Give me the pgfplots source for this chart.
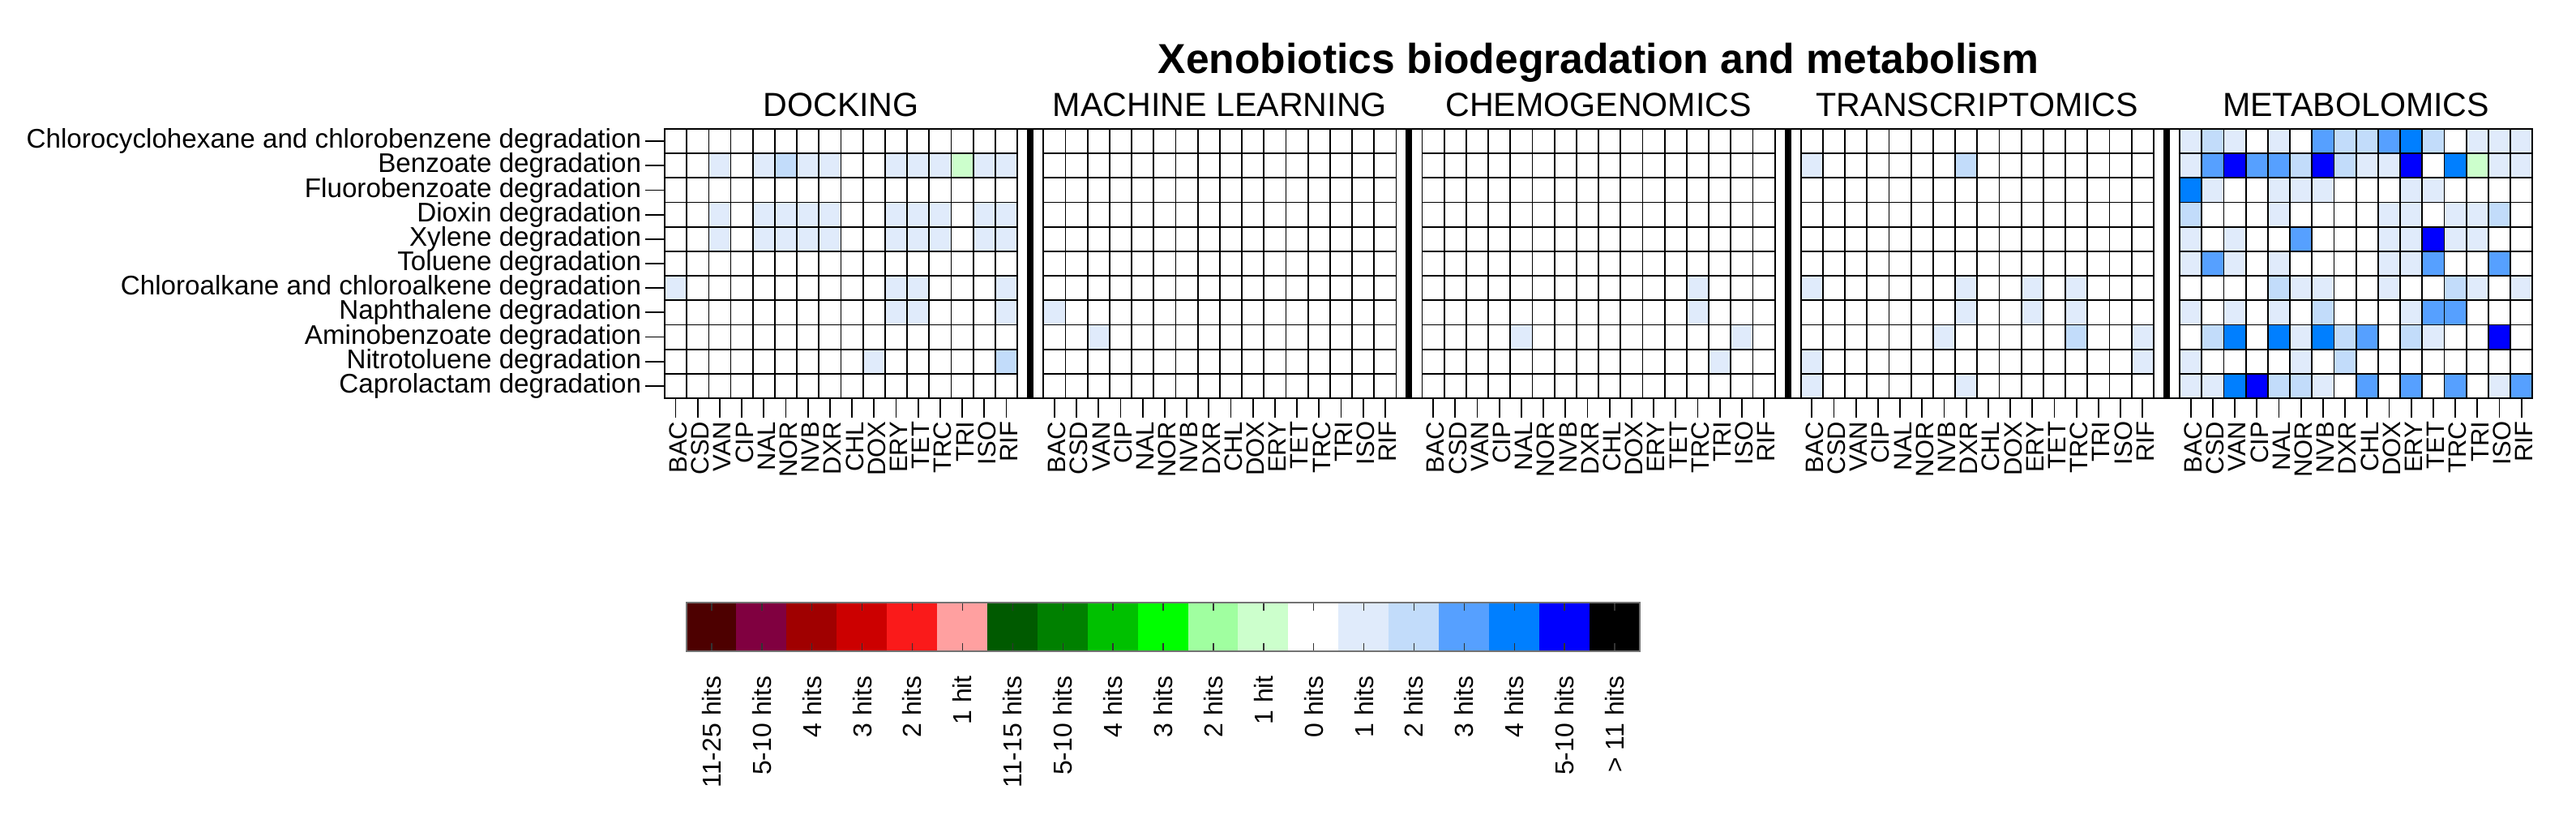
\documentclass[border=0pt]{standalone}
\usepackage{fontspec}
\setmainfont{Liberation Sans}
\usepackage{pgfplots}
\usepackage{pgfplotstable}
\pgfplotsset{compat=1.18}

% colour index: 0..5 red scale, 6..11 green scale, 12 = 0 hits, 13..18 blue scale
\pgfplotsset{
  colormap={hits}{
    rgb255(0cm)=(77,0,0) rgb255(1cm)=(128,0,64) rgb255(2cm)=(160,0,0) rgb255(3cm)=(204,0,0)
    rgb255(4cm)=(250,26,26) rgb255(5cm)=(255,160,160)
    rgb255(6cm)=(0,90,0) rgb255(7cm)=(0,128,0) rgb255(8cm)=(0,192,0) rgb255(9cm)=(0,255,0)
    rgb255(10cm)=(160,255,160) rgb255(11cm)=(204,255,204)
    rgb255(12cm)=(255,255,255) rgb255(13cm)=(224,235,251) rgb255(14cm)=(194,220,250)
    rgb255(15cm)=(86,160,255) rgb255(16cm)=(0,128,255) rgb255(17cm)=(0,0,255) rgb255(18cm)=(0,0,0)
  },
}

\pgfplotstableread[row sep=\\]{
c\\
12\\12\\12\\12\\12\\12\\12\\12\\12\\12\\12\\12\\12\\12\\12\\12\\
12\\12\\13\\12\\13\\14\\13\\13\\12\\12\\13\\13\\13\\11\\13\\13\\
12\\12\\12\\12\\12\\12\\12\\12\\12\\12\\12\\12\\12\\12\\12\\12\\
12\\12\\13\\12\\13\\13\\13\\13\\12\\12\\13\\13\\13\\12\\13\\13\\
12\\12\\13\\12\\13\\13\\13\\13\\12\\12\\13\\13\\13\\12\\13\\13\\
12\\12\\12\\12\\12\\12\\12\\12\\12\\12\\12\\12\\12\\12\\12\\12\\
13\\12\\12\\12\\12\\12\\12\\12\\12\\12\\13\\13\\12\\12\\12\\13\\
13\\12\\12\\12\\12\\12\\12\\12\\12\\12\\13\\13\\12\\12\\12\\13\\
12\\12\\12\\12\\12\\12\\12\\12\\12\\12\\12\\12\\12\\12\\12\\12\\
12\\12\\12\\12\\12\\12\\12\\12\\12\\13\\12\\12\\12\\12\\12\\14\\
12\\12\\12\\12\\12\\12\\12\\12\\12\\12\\12\\12\\12\\12\\12\\12\\
}\docking

\pgfplotstableread[row sep=\\]{
c\\
12\\12\\12\\12\\12\\12\\12\\12\\12\\12\\12\\12\\12\\12\\12\\12\\
12\\12\\12\\12\\12\\12\\12\\12\\12\\12\\12\\12\\12\\12\\12\\12\\
12\\12\\12\\12\\12\\12\\12\\12\\12\\12\\12\\12\\12\\12\\12\\12\\
12\\12\\12\\12\\12\\12\\12\\12\\12\\12\\12\\12\\12\\12\\12\\12\\
12\\12\\12\\12\\12\\12\\12\\12\\12\\12\\12\\12\\12\\12\\12\\12\\
12\\12\\12\\12\\12\\12\\12\\12\\12\\12\\12\\12\\12\\12\\12\\12\\
12\\12\\12\\12\\12\\12\\12\\12\\12\\12\\12\\12\\12\\12\\12\\12\\
12\\12\\12\\12\\12\\12\\12\\12\\12\\12\\12\\12\\12\\12\\12\\12\\
13\\12\\13\\12\\12\\12\\12\\12\\12\\12\\12\\12\\12\\12\\12\\12\\
12\\12\\12\\12\\12\\12\\12\\12\\12\\12\\12\\12\\12\\12\\12\\12\\
12\\12\\12\\12\\12\\12\\12\\12\\12\\12\\12\\12\\12\\12\\12\\12\\
}\mlearn

\pgfplotstableread[row sep=\\]{
c\\
12\\12\\12\\12\\12\\12\\12\\12\\12\\12\\12\\12\\12\\12\\12\\12\\
12\\12\\12\\12\\12\\12\\12\\12\\12\\12\\12\\12\\12\\12\\12\\12\\
12\\12\\12\\12\\12\\12\\12\\12\\12\\12\\12\\12\\12\\12\\12\\12\\
12\\12\\12\\12\\12\\12\\12\\12\\12\\12\\12\\12\\12\\12\\12\\12\\
12\\12\\12\\12\\12\\12\\12\\12\\12\\12\\12\\12\\12\\12\\12\\12\\
12\\12\\12\\12\\12\\12\\12\\12\\12\\12\\12\\12\\12\\12\\12\\12\\
12\\12\\12\\12\\12\\12\\12\\12\\12\\12\\12\\12\\13\\12\\12\\12\\
12\\12\\12\\12\\12\\12\\12\\12\\12\\12\\12\\12\\13\\12\\12\\12\\
12\\12\\12\\12\\13\\12\\12\\12\\12\\12\\12\\12\\12\\12\\13\\12\\
12\\12\\12\\12\\12\\12\\12\\12\\12\\12\\12\\12\\12\\13\\12\\12\\
12\\12\\12\\12\\12\\12\\12\\12\\12\\12\\12\\12\\12\\12\\12\\12\\
}\chemo

\pgfplotstableread[row sep=\\]{
c\\
12\\12\\12\\12\\12\\12\\12\\12\\12\\12\\12\\12\\12\\12\\12\\12\\
13\\12\\12\\12\\12\\12\\12\\14\\12\\12\\12\\12\\12\\12\\12\\12\\
12\\12\\12\\12\\12\\12\\12\\12\\12\\12\\12\\12\\12\\12\\12\\12\\
12\\12\\12\\12\\12\\12\\12\\12\\12\\12\\12\\12\\12\\12\\12\\12\\
12\\12\\12\\12\\12\\12\\12\\12\\12\\12\\12\\12\\12\\12\\12\\12\\
12\\12\\12\\12\\12\\12\\12\\12\\12\\12\\12\\12\\12\\12\\12\\12\\
13\\12\\12\\12\\12\\12\\12\\13\\12\\12\\13\\12\\13\\12\\12\\12\\
13\\12\\12\\12\\12\\12\\12\\13\\12\\12\\13\\12\\13\\12\\12\\12\\
12\\12\\12\\12\\12\\12\\13\\12\\12\\12\\12\\12\\14\\12\\12\\13\\
13\\12\\12\\12\\12\\12\\12\\12\\12\\12\\12\\12\\12\\12\\12\\13\\
13\\12\\12\\12\\12\\12\\12\\13\\12\\12\\12\\12\\12\\12\\12\\12\\
}\transc

\pgfplotstableread[row sep=\\]{
c\\
13\\14\\13\\12\\13\\12\\15\\14\\14\\15\\16\\14\\12\\13\\13\\13\\
13\\15\\17\\15\\15\\14\\17\\14\\13\\13\\17\\12\\16\\11\\13\\13\\
16\\13\\12\\12\\13\\13\\13\\12\\12\\12\\13\\13\\12\\12\\12\\12\\
14\\12\\12\\12\\13\\12\\12\\12\\12\\13\\13\\12\\13\\13\\14\\12\\
13\\12\\13\\12\\12\\15\\12\\12\\12\\13\\13\\17\\13\\13\\12\\12\\
13\\15\\13\\12\\13\\12\\12\\12\\12\\13\\13\\15\\12\\12\\15\\12\\
12\\12\\12\\12\\14\\13\\13\\12\\12\\13\\12\\12\\14\\13\\12\\13\\
14\\12\\13\\12\\13\\12\\14\\12\\12\\12\\13\\15\\15\\12\\12\\12\\
13\\14\\16\\12\\16\\13\\16\\14\\15\\12\\14\\13\\12\\12\\17\\12\\
13\\12\\12\\12\\12\\13\\12\\14\\12\\12\\12\\12\\12\\12\\12\\12\\
13\\13\\16\\17\\14\\14\\13\\12\\15\\12\\15\\12\\15\\12\\13\\15\\
}\metab

\pgfplotstableread[row sep=\\]{
c\\
0\\1\\2\\3\\4\\5\\6\\7\\8\\9\\10\\11\\12\\13\\14\\15\\16\\17\\18\\
}\legendtab

\pgfplotsset{
  every axis title shift=0pt,
  panelbox/.style={
    width=108.8bp, height=83bp, scale only axis, anchor=south west,
    xmin=-0.5, xmax=15.5, ymin=-0.5, ymax=10.5, clip=false,
  },
  paneldata/.style={panelbox, hide axis,
    colormap name=hits, point meta min=0, point meta max=18},
  panelgrid/.style={panelbox,
    axis line style={line width=0.45bp},
    xtick={0,...,15},
    xticklabels={BAC,CSD,VAN,CIP,NAL,NOR,NVB,DXR,CHL,DOX,ERY,TET,TRC,TRI,ISO,RIF},
    xticklabel style={rotate=90, anchor=east, font=\fontsize{7.75bp}{9bp}\selectfont, inner sep=1bp, yshift=-0.8bp},
    ytick={0,...,10}, yticklabels={},
    minor xtick={0.5,1.5,...,14.5},
    minor ytick={0.5,1.5,...,9.5},
    grid=minor, minor grid style={black, line width=0.45bp, solid},
    minor tick length=0pt,
    tick align=outside, major tick length=6bp,
    xtick pos=left, ytick pos=left,
    tick style={black, line width=0.45bp},
    ytick style={draw=none},
    title style={at={(0.5,1)}, anchor=base, yshift=3.75bp, font=\fontsize{10.3bp}{12bp}\selectfont},
  },
  cells/.style={scatter, only marks, mark=square*, mark size=3.45bp,
    point meta=explicit,
    scatter/use mapped color={draw=mapped color, fill=mapped color},
    mark options={yscale=1.1, line width=0.1bp}},
  table/grid16/.style={x index=0, y index=0, x expr={mod(\coordindex,16)}, y expr={10-int(\coordindex/16)}, meta=c},
  table/grid19/.style={x index=0, y index=0, x expr={\coordindex}, y expr={0}, meta=c},
  keybox/.style={at={(211.75bp,53.25bp)}, anchor=south west, width=294bp, height=15bp, scale only axis,
    xmin=-0.5, xmax=18.5, ymin=-0.5, ymax=0.5},
}
\newcommand{\separator}{%
  \draw[line width=2bp] (axis cs:16.089,-0.5) -- (axis cs:16.089,10.5);
  \draw[line width=0.45bp] (axis cs:15.5,-0.5) -- (axis cs:16.678,-0.5);
  \draw[line width=0.45bp] (axis cs:15.5,10.5) -- (axis cs:16.678,10.5);
}

\begin{document}
\begin{tikzpicture}
\path[use as bounding box] (0,0) rectangle (794.5bp,254bp);

\node[anchor=base, font=\bfseries\fontsize{12.9bp}{15bp}\selectfont] at (493bp,231.25bp) {Xenobiotics biodegradation and metabolism};

% ---- cell colours ----
\begin{axis}[paneldata, at={(205bp,131.25bp)}]
\addplot[cells] table[grid16] {\docking};
\end{axis}
\begin{axis}[paneldata, at={(321.8125bp,131.25bp)}]
\addplot[cells] table[grid16] {\mlearn};
\end{axis}
\begin{axis}[paneldata, at={(438.625bp,131.25bp)}]
\addplot[cells] table[grid16] {\chemo};
\end{axis}
\begin{axis}[paneldata, at={(555.4375bp,131.25bp)}]
\addplot[cells] table[grid16] {\transc};
\end{axis}
\begin{axis}[paneldata, at={(672.25bp,131.25bp)}]
\addplot[cells] table[grid16] {\metab};
\end{axis}

% ---- grids, ticks, labels on top ----
\begin{axis}[panelgrid, at={(205bp,131.25bp)}, title={DOCKING},
  yticklabels={Caprolactam degradation, Nitrotoluene degradation, Aminobenzoate degradation, Naphthalene degradation, Chloroalkane and chloroalkene degradation, Toluene degradation, Xylene degradation, Dioxin degradation, Fluorobenzoate degradation, Benzoate degradation, Chlorocyclohexane and chlorobenzene degradation},
  ytick style={draw=black},
  yticklabel style={font=\fontsize{8.3bp}{9.5bp}\selectfont, inner sep=1bp}]
\separator
\end{axis}
\begin{axis}[panelgrid, at={(321.8125bp,131.25bp)}, title={MACHINE LEARNING}]
\separator
\end{axis}
\begin{axis}[panelgrid, at={(438.625bp,131.25bp)}, title={CHEMOGENOMICS}]
\separator
\end{axis}
\begin{axis}[panelgrid, at={(555.4375bp,131.25bp)}, title={TRANSCRIPTOMICS}]
\separator
\end{axis}
\begin{axis}[panelgrid, at={(672.25bp,131.25bp)}, title={METABOLOMICS}]
\end{axis}

% ---- colour key ----
\begin{axis}[keybox, hide axis, colormap name=hits, point meta min=0, point meta max=18]
\addplot[scatter, only marks, mark=square*, mark size=7.8bp, point meta=explicit,
  scatter/use mapped color={draw=mapped color, fill=mapped color},
  mark options={yscale=0.97, line width=0.1bp}] table[grid19] {\legendtab};
\end{axis}
\begin{axis}[keybox,
  axis line style={draw=black!55, line width=0.45bp},
  xtick={0,...,18},
  xticklabels={11-25 hits, 5-10 hits, 4 hits, 3 hits, 2 hits, 1 hit, 11-15 hits, 5-10 hits, 4 hits, 3 hits, 2 hits, 1 hit, 0 hits, 1 hits, 2 hits, 3 hits, 4 hits, 5-10 hits, > 11 hits},
  ytick=\empty,
  tick align=inside, xtick pos=both, major tick length=2.5bp,
  tick style={black!80, line width=0.35bp},
  xticklabel style={rotate=90, anchor=east, font=\fontsize{8bp}{9.6bp}\selectfont},
  xticklabel shift=4bp]
\end{axis}
\end{tikzpicture}
\end{document}
